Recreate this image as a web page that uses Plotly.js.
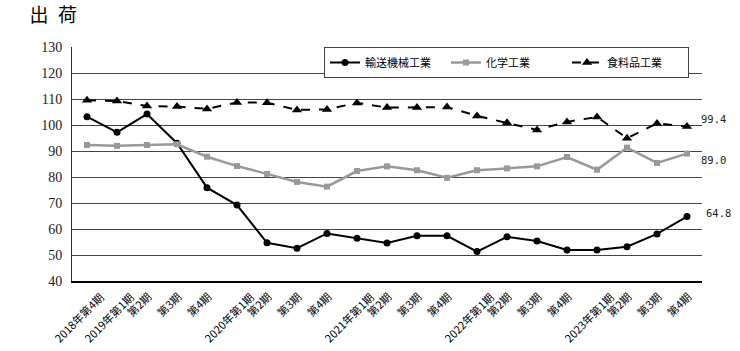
<!DOCTYPE html>
<html><head><meta charset="utf-8">
<script src="https://cdn.plot.ly/plotly-3.0.1.min.js"></script>
<style>html,body{margin:0;padding:0;background:#fff}#chart{width:740px;height:351px}</style>
</head><body><div id="chart"></div>
<script>
const categories = ["2018年第4期","2019年第1期","第2期","第3期","第4期","2020年第1期","第2期","第3期","第4期","2021年第1期","第2期","第3期","第4期","2022年第1期","第2期","第3期","第4期","2023年第1期","第2期","第3期","第4期"];
const transport = [103.2,97.2,104.2,93.0,75.9,69.2,54.7,52.6,58.3,56.4,54.6,57.4,57.4,51.3,57.0,55.4,51.9,51.9,53.2,58.1,64.8];
const chemical = [92.3,92.0,92.3,92.6,87.8,84.2,81.2,78.1,76.3,82.3,84.1,82.6,79.7,82.6,83.3,84.1,87.7,82.8,91.3,85.4,89.0];
const food = [109.5,109.2,107.3,107.1,106.2,108.7,108.6,105.8,106.0,108.5,106.7,106.7,106.9,103.5,100.9,98.1,101.2,103.1,94.9,100.6,99.4];
const seriesNames = ["輸送機械工業","化学工業","食料品工業"];
const yTicks = [40,50,60,70,80,90,100,110,120,130];

const xIdx = categories.map((c,i)=>i);
const last = categories.length-1;
const traces = [
  {x:xIdx, y:transport, name:seriesNames[0], type:'scatter', mode:'lines+markers',
   line:{color:'#000', width:2}, marker:{symbol:'circle', size:7, color:'#000'}},
  {x:xIdx, y:chemical, name:seriesNames[1], type:'scatter', mode:'lines+markers',
   line:{color:'#999', width:2.5}, marker:{symbol:'square', size:6, color:'#999'}},
  {x:xIdx, y:food, name:seriesNames[2], type:'scatter', mode:'lines+markers',
   line:{color:'#000', width:2, dash:'dash'}, marker:{symbol:'triangle-up', size:9, color:'#000'}}
];
const labelFont = {family:"'DejaVu Sans Mono', monospace", size:10.5, color:'#222'};
const catFont = {family:'Noto Sans CJK JP', size:11, color:'#000'};
const catAnnotations = categories.map((c,i)=>({
  x:i, xref:'x', y:0, yref:'paper', text:c, textangle:-45, showarrow:false,
  xanchor:'center', yanchor:'top', xshift:-8, yshift:-5, font:catFont
}));
const layout = {
  width:740, height:351,
  margin:{l:72, r:38, t:47, b:70},
  paper_bgcolor:'#fff', plot_bgcolor:'#fff',
  showlegend:true,
  legend:{orientation:'h', x:0.40, xanchor:'left', y:1, yanchor:'top',
    bgcolor:'#fff', bordercolor:'#444', borderwidth:1, entrywidth:76, entrywidthmode:'pixels',
    font:{family:'Noto Sans CJK JP', size:11, color:'#000'}, tracegroupgap:0},
  xaxis:{type:'linear', range:[-0.5, last+0.5], tickvals:xIdx, showticklabels:false,
    showgrid:false, zeroline:false, showline:true, linecolor:'#000', linewidth:1.5, ticks:''},
  yaxis:{range:[40,130], tickvals:yTicks, showgrid:true, gridcolor:'#444', gridwidth:1,
    zeroline:false, showline:true, linecolor:'#333', linewidth:1, ticks:'', ticklabelstandoff:6,
    tickfont:{family:"'Liberation Serif', 'Times New Roman', serif", size:14, color:'#222'}},
  title:{text:'出\u2002荷', x:0.04, xanchor:'left', y:0.955, yanchor:'middle',
    font:{family:'Noto Sans CJK JP', size:19, color:'#000'}},
  annotations:[
    {x:last, y:food[last], text:food[last].toFixed(1), showarrow:false, xanchor:'left', xshift:12, yshift:8, font:labelFont},
    {x:last, y:chemical[last], text:chemical[last].toFixed(1), showarrow:false, xanchor:'left', xshift:12, yshift:-6, font:labelFont},
    {x:last, y:transport[last], text:transport[last].toFixed(1), showarrow:false, xanchor:'left', xshift:17, yshift:4, font:labelFont}
  ].concat(catAnnotations)
};
Plotly.newPlot('chart', traces, layout, {displayModeBar:false, staticPlot:true});
</script></body></html>
